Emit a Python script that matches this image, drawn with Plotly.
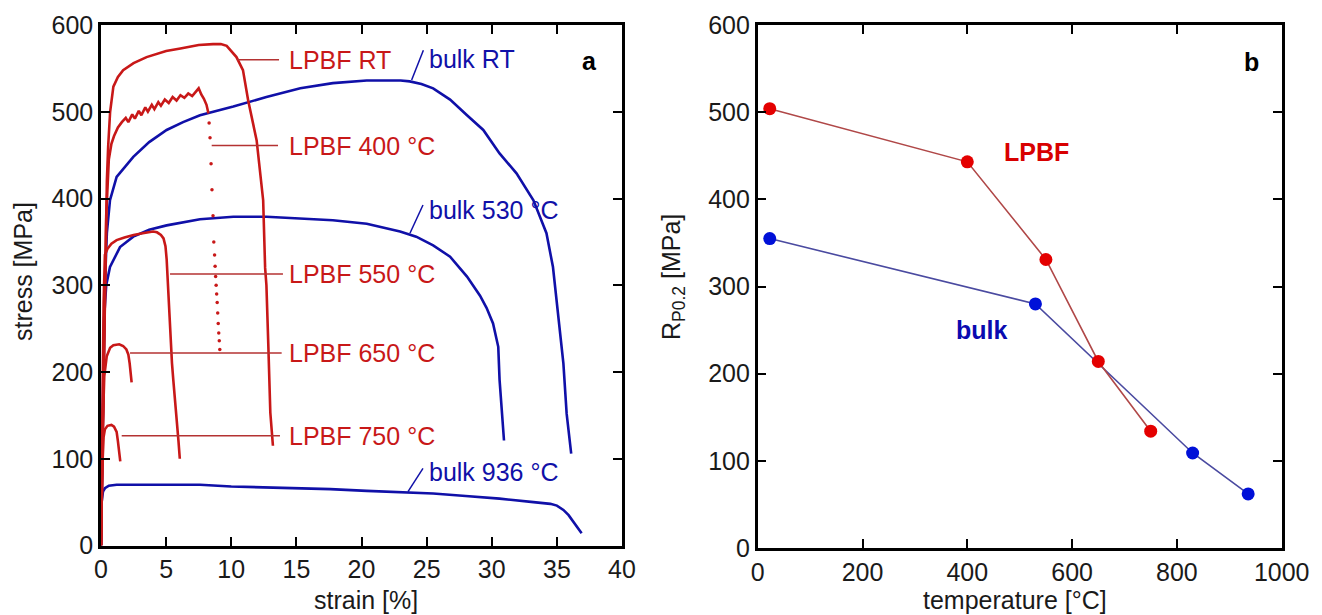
import plotly.graph_objects as go

# ---------------- (a) stress-strain curves ----------------
# LPBF, room temperature
lpbf_rt_strain = [0, 0.15, 0.3, 0.45, 0.55, 0.7, 0.95, 1.3, 1.7, 2.5, 3.5, 5.0, 6.1, 7.5, 8.6, 9.2,
                  9.65, 10.0, 10.4, 10.9, 11.3, 11.95, 12.45, 12.6, 12.7, 12.85, 13.0, 13.2]
lpbf_rt_stress = [0, 150, 300, 420, 460, 500, 529, 540, 548, 556, 563, 570, 573, 577, 578, 578,
                  576, 570, 563, 548, 513, 467, 398, 320, 300, 229, 153, 115]

# LPBF, 400 °C (serrated flow, then fracture drop recorded as sparse points)
lpbf_400_strain = [0, 0.2, 0.4, 0.6, 0.8, 1.0, 1.3, 1.6, 1.9, 2.1, 2.4, 2.6, 2.9, 3.1, 3.4, 3.6,
                   3.9, 4.1, 4.4, 4.6, 4.9, 5.2, 5.5, 5.8, 6.1, 6.4, 6.7, 7.0, 7.3, 7.5, 7.7,
                   7.9, 8.1, 8.25]
lpbf_400_stress = [0, 200, 380, 445, 463, 472, 482, 488, 493, 488, 497, 492, 501, 496, 505, 500,
                   508, 503, 511, 507, 514, 510, 517, 513, 519, 516, 521, 518, 523, 527, 520,
                   515, 508, 498]
lpbf_400_drop_strain = [8.3, 8.37, 8.45, 8.52, 8.6, 8.66, 8.72, 8.76, 8.8, 8.84, 8.88, 8.92,
                        8.96, 9.0, 9.04, 9.08, 9.12]
lpbf_400_drop_stress = [487, 470, 440, 410, 380, 350, 335, 322, 310, 300, 290, 280,
                        268, 256, 245, 236, 226]

# LPBF, 550 °C
lpbf_550_strain = [0, 0.1, 0.2, 0.3, 0.5, 0.8, 1.2, 1.8, 2.5, 3.2, 4.0, 4.3, 4.6, 4.8, 4.95,
                   5.04, 5.1, 5.17, 5.3, 5.45, 5.55, 5.7, 5.8, 5.95, 6.05]
lpbf_550_stress = [0, 150, 280, 335, 342, 348, 352, 355, 358, 360, 362, 361, 358, 354, 345,
                   330, 310, 298, 248, 210, 191, 160, 145, 120, 100]

# LPBF, 650 °C
lpbf_650_strain = [0, 0.1, 0.25, 0.44, 0.7, 0.95, 1.4, 1.7, 1.95, 2.1, 2.2, 2.28, 2.35]
lpbf_650_stress = [0, 120, 195, 218, 228, 231, 232, 230, 226, 220, 210, 198, 188]

# LPBF, 750 °C
lpbf_750_strain = [0, 0.1, 0.2, 0.3, 0.5, 0.8, 1.0, 1.2, 1.3, 1.38, 1.48]
lpbf_750_stress = [0, 90, 125, 134, 138, 139, 137, 131, 120, 108, 97]

# bulk, room temperature
bulk_rt_strain = [0, 0.15, 0.3, 0.45, 0.69, 1.2, 2.48, 3.7, 5.04, 6.3, 7.6, 10.16, 12.7, 15.3,
                  17.8, 20.4, 23.0, 23.7, 24.6, 25.5, 26.8, 28.1, 29.35, 30.6, 31.9, 33.2,
                  34.2, 34.7, 34.86, 35.1, 35.5, 35.75, 36.1]
bulk_rt_stress = [0, 150, 300, 360, 398, 425, 448, 465, 479, 488, 496, 506, 517, 527,
                  533, 536, 536, 535, 532, 527, 514, 496, 479, 452, 429, 398,
                  360, 321, 300, 268, 210, 152, 106]

# bulk, 530 °C
bulk_530_strain = [0, 0.15, 0.23, 0.4, 0.69, 1.46, 2.48, 3.7, 5.04, 7.6, 10.16, 12.7, 15.3,
                   17.8, 20.4, 22.96, 24.2, 25.5, 26.8, 28.1, 29.1, 29.6, 30.1, 30.5, 30.6,
                   30.77, 30.94]
bulk_530_stress = [0, 180, 260, 300, 321, 344, 356, 364, 369, 376, 379, 379, 377,
                   375, 371, 362, 356, 346, 333, 310, 288, 274, 256, 229, 191,
                   152, 121]

# bulk, 936 °C
bulk_936_strain = [0, 0.05, 0.15, 0.3, 0.6, 1.2, 4.0, 7.6, 10.0, 12.5, 15.3, 17.6, 20.4, 23.0,
                   25.5, 28.0, 30.6, 33.2, 34.5, 35.0, 35.5, 35.9, 36.3, 36.9]
bulk_936_stress = [0, 50, 62, 66, 69, 70, 70, 70, 68, 67, 66, 65, 63, 61.5,
                   60, 57, 54, 50, 48, 46, 41, 35, 27, 14]

# ---------------- (b) 0.2 % proof stress vs temperature ----------------
lpbf_temp = [23, 400, 550, 650, 750]
lpbf_rp02 = [504, 443, 331, 214, 134]
bulk_temp = [23, 530, 830, 936]
bulk_rp02 = [355, 280, 109, 62]

RED = "#c81818"
RED_THIN = "#b43232"
BLUE = "#1010a8"
FONT = "Liberation Sans, Arial, sans-serif"
FS = 25

W, H = 1322, 615

fig = go.Figure()


def curve(x, y, color):
    fig.add_trace(go.Scatter(x=x, y=y, mode="lines", line=dict(color=color, width=2.6),
                             hoverinfo="skip", showlegend=False))


curve(bulk_936_strain, bulk_936_stress, BLUE)
curve(bulk_530_strain, bulk_530_stress, BLUE)
curve(bulk_rt_strain, bulk_rt_stress, BLUE)
curve(lpbf_750_strain, lpbf_750_stress, RED)
curve(lpbf_650_strain, lpbf_650_stress, RED)
curve(lpbf_550_strain, lpbf_550_stress, RED)
curve(lpbf_400_strain, lpbf_400_stress, RED)
fig.add_trace(go.Scatter(x=lpbf_400_drop_strain, y=lpbf_400_drop_stress, mode="markers",
                         marker=dict(color=RED, size=3.5), hoverinfo="skip", showlegend=False))
curve(lpbf_rt_strain, lpbf_rt_stress, RED)

# panel (b)
fig.add_trace(go.Scatter(x=bulk_temp, y=bulk_rp02, mode="lines+markers",
                         line=dict(color="#4a4aa0", width=1.6),
                         marker=dict(color="#0010d8", size=13),
                         xaxis="x2", yaxis="y2", hoverinfo="skip", showlegend=False))
fig.add_trace(go.Scatter(x=lpbf_temp, y=lpbf_rp02, mode="lines+markers",
                         line=dict(color="#b04848", width=1.6),
                         marker=dict(color="#e40000", size=13),
                         xaxis="x2", yaxis="y2", hoverinfo="skip", showlegend=False))

axis_style = dict(showline=True, linecolor="black", linewidth=2.5, mirror="ticks",
                  ticks="inside", ticklen=9, tickwidth=1.6, tickcolor="black",
                  showgrid=False, zeroline=False, automargin=False,
                  tickfont=dict(family=FONT, size=FS, color="#1a1a1a"))

fig.update_layout(
    width=W, height=H,
    margin=dict(l=0, r=0, t=0, b=0, pad=0),
    paper_bgcolor="white", plot_bgcolor="white",
    xaxis=dict(domain=[101 / W, 622 / W], range=[0, 40], dtick=5, anchor="y", **axis_style),
    yaxis=dict(domain=[69.5 / H, 590 / H], range=[0, 600], dtick=100, anchor="x", **axis_style),
    xaxis2=dict(domain=[757.7 / W, 1281.7 / W], range=[0, 1000], dtick=200, anchor="y2",
                **axis_style),
    yaxis2=dict(domain=[67 / H, 590 / H], range=[0, 600], dtick=100, anchor="x2",
                **axis_style),
)

# curve labels with leader lines in panel (a): (text, colour, label x, label y, line x0, y0, x1, y1)
curve_labels = [
    ("LPBF RT", RED, 14.3, 560, 10.44, 560, 13.67, 560),
    ("LPBF 400 °C", RED, 14.3, 461, 8.5, 461, 13.59, 461),
    ("LPBF 550 °C", RED, 14.3, 313, 5.3, 313, 13.97, 313),
    ("LPBF 650 °C", RED, 14.3, 222, 2.23, 222, 13.87, 222),
    ("LPBF 750 °C", RED, 14.3, 126.6, 1.59, 126.6, 13.74, 126.6),
    ("bulk RT", BLUE, 25.0, 561, 23.85, 536.6, 24.75, 571),
    ("bulk 530 °C", BLUE, 25.0, 387, 23.72, 360, 24.72, 392.5),
    ("bulk 936 °C", BLUE, 25.0, 85, 23.57, 62, 24.72, 89),
]
for text, col, tx, ty, x0, y0, x1, y1 in curve_labels:
    fig.add_annotation(x=tx, y=ty, xref="x", yref="y", text=text, showarrow=False,
                       xanchor="left", yanchor="middle",
                       font=dict(family=FONT, size=FS, color=col))
    fig.add_shape(type="line", xref="x", yref="y", x0=x0, y0=y0, x1=x1, y1=y1,
                  line=dict(color=RED_THIN if col == RED else BLUE, width=1.5))

# panel letters
fig.add_annotation(x=37.5, y=558, xref="x", yref="y", text="<b>a</b>", showarrow=False,
                   xanchor="center", yanchor="middle",
                   font=dict(family=FONT, size=FS, color="black"))
fig.add_annotation(x=942, y=558, xref="x2", yref="y2", text="<b>b</b>", showarrow=False,
                   xanchor="center", yanchor="middle",
                   font=dict(family=FONT, size=FS, color="black"))

# series names in panel (b)
fig.add_annotation(x=466, y=454, xref="x2", yref="y2", text="<b>LPBF</b>", showarrow=False,
                   xanchor="left", yanchor="middle",
                   font=dict(family=FONT, size=FS, color="#d80000"))
fig.add_annotation(x=375, y=250, xref="x2", yref="y2", text="<b>bulk</b>", showarrow=False,
                   xanchor="left", yanchor="middle",
                   font=dict(family=FONT, size=FS, color="#0a0ab0"))

# axis titles
title_font = dict(family=FONT, size=FS, color="#1a1a1a")
axis_titles = [
    ("strain [%]", 366, 600, 0),
    ("temperature [°C]", 1015, 600, 0),
    ("stress [MPa]", 23, 272, -90),
    ("R<sub>P0.2</sub> [MPa]", 673, 277, -90),
]
for text, px, py, ang in axis_titles:
    fig.add_annotation(x=px / W, y=1 - py / H, xref="paper", yref="paper", text=text,
                       showarrow=False, textangle=ang, xanchor="center", yanchor="middle",
                       font=title_font)

fig.write_html("out.html")
